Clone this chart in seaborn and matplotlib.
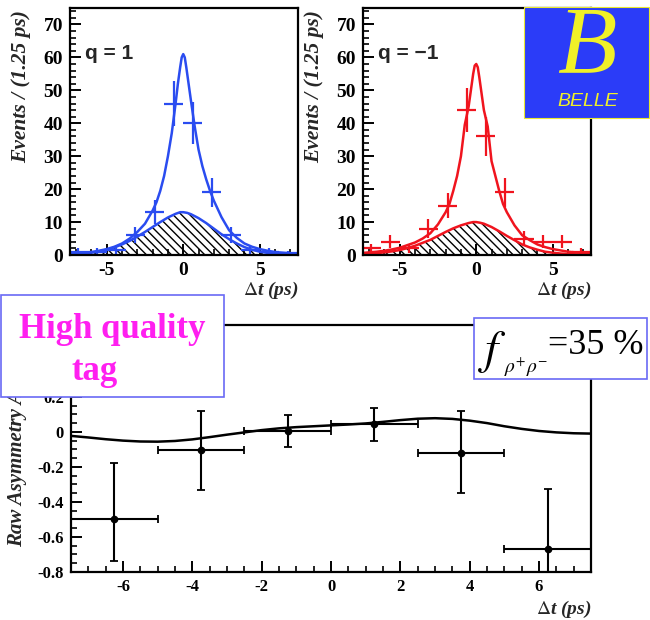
import numpy as np
import pandas as pd
import matplotlib
matplotlib.use("Agg")
import matplotlib.pyplot as plt
from matplotlib.patches import Rectangle
from matplotlib.ticker import MultipleLocator, FuncFormatter
import seaborn as sns

# ---------------- data ----------------
bin_centers = [-6.875, -5.625, -4.375, -3.125, -1.875, -0.625, 0.625, 1.875, 3.125, 4.375, 5.625, 6.875]
q_pos_counts = [1, 1, 1.5, 6, 13, 46, 40, 19, 6, 1.5, 1, 0.5]
q_neg_counts = [2, 4, 2, 8, 15, 44, 36, 19, 5, 4, 4, 1]

curve_t = [-7.5, -7, -6.5, -6, -5.5, -5, -4.5, -4, -3.5, -3, -2.5, -2, -1.75, -1.5, -1.25, -1,
           -0.75, -0.5, -0.35, -0.2, -0.1, 0, 0.1, 0.2, 0.35, 0.5, 0.75, 1, 1.25, 1.5, 1.75, 2,
           2.5, 3, 3.5, 4, 4.5, 5, 5.5, 6, 6.5, 7, 7.5]
q_pos_total = [0.4, 0.5, 0.7, 0.9, 1.3, 1.8, 2.5, 3.5, 5, 7, 9.5, 13.5, 16, 19.5, 24, 30,
               37, 46, 52, 57, 60, 61, 60, 57, 52, 47, 39, 32, 27, 23, 19.5, 16.5,
               11.5, 7.5, 5.2, 3.5, 2.5, 1.8, 1.3, 0.9, 0.7, 0.5, 0.4]
q_neg_total = [0.6, 0.8, 1.0, 1.3, 1.7, 2.2, 3.0, 3.8, 5.0, 6.6, 9.3, 13, 15.5, 19.5, 24, 30,
               39.5, 45, 50, 55, 57.5, 58, 57, 54, 49, 44, 39, 28.5, 24, 19.5, 15.5, 13,
               9, 6, 4.5, 3.2, 2.4, 1.8, 1.4, 1.0, 0.8, 0.6, 0.5]

bkg_t = [-7.5, -7, -6.5, -6, -5.5, -5, -4.5, -4, -3.5, -3, -2.5, -2, -1.5, -1, -0.5, -0.2, 0,
         0.25, 0.5, 1, 1.5, 2, 2.5, 3, 3.5, 4, 4.5, 5, 5.5, 6, 6.5, 7, 7.5]
q_pos_bkg = [0.2, 0.3, 0.45, 0.7, 1.1, 1.6, 2.3, 3.2, 4.3, 5.6, 7.0, 8.5, 10, 11.4, 12.5, 13, 13,
             12.8, 12.4, 11.2, 9.7, 8.0, 6.3, 4.8, 3.5, 2.4, 1.6, 1.0, 0.65, 0.4, 0.25, 0.15, 0.1]
q_neg_bkg = [0.3, 0.4, 0.55, 0.8, 1.1, 1.5, 2.1, 2.8, 3.7, 4.6, 5.8, 7.0, 8.1, 9.0, 9.7, 10, 10,
             9.8, 9.5, 8.5, 7.2, 5.8, 4.5, 3.2, 2.3, 1.6, 1.0, 0.7, 0.45, 0.3, 0.2, 0.12, 0.1]

asym_t = [-6.25, -3.75, -1.25, 1.25, 3.75, 6.25]
asym_val = [-0.50, -0.105, 0.005, 0.045, -0.12, -0.667]
asym_err_up = [0.32, 0.225, 0.09, 0.09, 0.24, 0.34]
asym_err_dn = [0.24, 0.225, 0.09, 0.095, 0.23, 0.34]

asym_curve_t = [-7.5, -7, -6.5, -6, -5.5, -5, -4.5, -4, -3.5, -3, -2.5, -2, -1.5, -1, -0.5, 0,
                0.5, 1, 1.5, 2, 2.5, 3, 3.5, 4, 4.5, 5, 5.5, 6, 6.5, 7, 7.5]
asym_curve_v = [-0.023, -0.032, -0.042, -0.05, -0.055, -0.056, -0.052, -0.043, -0.03, -0.016,
                -0.003, 0.01, 0.02, 0.027, 0.032, 0.037, 0.042, 0.048, 0.057, 0.067, 0.075,
                0.078, 0.074, 0.064, 0.05, 0.032, 0.017, 0.005, -0.003, -0.008, -0.01]

# ---------------- style ----------------
sns.set_theme(style="ticks")
plt.rcParams['font.family'] = ['Liberation Serif', 'DejaVu Serif']
plt.rcParams['mathtext.fontset'] = 'stix'
plt.rcParams['axes.unicode_minus'] = False

fig = plt.figure(figsize=(6.5, 6.2), dpi=100)
fig.patch.set_facecolor('white')

W, H = 650.0, 620.0
def ax_rect(x0, x1, ytop, ybot):
    return [x0 / W, 1 - ybot / H, (x1 - x0) / W, (ybot - ytop) / H]

def gfmt(v, pos):
    s = '%g' % round(v, 6)
    return '0' if s in ('-0', '0') else s

def asym_fmt(v, pos):
    # labels above 0.2 sit under the "High quality tag" box
    return '' if v > 0.25 else gfmt(v, pos)

def style_axes(ax, xmaj, xmin, ymaj, ymin, fs, yfmt=gfmt):
    for s in ax.spines.values():
        s.set_linewidth(1.6)
        s.set_color('black')
    ax.xaxis.set_major_locator(MultipleLocator(xmaj))
    ax.xaxis.set_minor_locator(MultipleLocator(xmin))
    ax.yaxis.set_major_locator(MultipleLocator(ymaj))
    ax.yaxis.set_minor_locator(MultipleLocator(ymin))
    ax.xaxis.set_major_formatter(FuncFormatter(gfmt))
    ax.yaxis.set_major_formatter(FuncFormatter(yfmt))
    ax.tick_params(which='both', direction='in', top=False, right=False, colors='black', pad=5)
    ax.tick_params(which='major', length=8, width=1.4)
    ax.tick_params(which='minor', length=4, width=1.2)
    ax.tick_params(axis='both', labelsize=fs)
    for lab in ax.get_xticklabels() + ax.get_yticklabels():
        lab.set_fontweight('bold')
    ax.set_facecolor('white')
    ax.grid(False)

def top_panel(ax, counts, total, bkg, color, qlabel):
    df_tot = pd.DataFrame({'t': curve_t, 'n': total})
    df_bkg = pd.DataFrame({'t': bkg_t, 'n': bkg})
    ax.fill_between(df_bkg['t'], 0, df_bkg['n'], facecolor='none', edgecolor='black',
                    hatch='\\\\\\\\', linewidth=0)
    sns.lineplot(data=df_bkg, x='t', y='n', ax=ax, color=color, lw=1.8)
    sns.lineplot(data=df_tot, x='t', y='n', ax=ax, color=color, lw=1.8)
    err = np.sqrt(np.array(counts, dtype=float))
    ax.errorbar(bin_centers, counts, xerr=0.625, yerr=err, fmt='none', ecolor=color,
                elinewidth=1.6, capsize=0)
    ax.set_xlim(-7.4, 7.5)
    ax.set_ylim(0, 75)
    style_axes(ax, 5, 1, 10, 2, 14)
    ax.set_xlabel('')
    ax.set_ylabel('')
    ax.text(-0.215, 0.99, 'Events / (1.25 ps)', transform=ax.transAxes, rotation=90,
            rotation_mode='anchor', ha='right', va='center', fontsize=15.5,
            fontstyle='italic', fontweight='bold')
    ax.text(1.0, -0.1, r'$\Delta$' + 't (ps)', transform=ax.transAxes, ha='right', va='top',
            fontsize=14, fontstyle='italic', fontweight='bold')
    ax.text(0.065, 0.815, qlabel, transform=ax.transAxes, ha='left', va='center',
            fontsize=15, fontweight='bold', family='Liberation Sans')

ax1 = fig.add_axes(ax_rect(70, 298, 8, 255))
top_panel(ax1, q_pos_counts, q_pos_total, q_pos_bkg, '#2a4cf0', 'q = 1')
ax2 = fig.add_axes(ax_rect(363, 591, 8, 255))
top_panel(ax2, q_neg_counts, q_neg_total, q_neg_bkg, '#f0141e', 'q = \u22121')

# bottom asymmetry panel
ax3 = fig.add_axes(ax_rect(71, 591, 325, 572))
df_ac = pd.DataFrame({'t': asym_curve_t, 'a': asym_curve_v})
sns.lineplot(data=df_ac, x='t', y='a', ax=ax3, color='black', lw=1.8)
ax3.errorbar(asym_t, asym_val, xerr=1.25, yerr=[asym_err_dn, asym_err_up], fmt='o', color='black',
             ms=4.5, elinewidth=1.5, capsize=3, capthick=1.3, clip_on=True)
ax3.set_xlim(-7.5, 7.5)
ax3.set_ylim(-0.8, 0.61)
style_axes(ax3, 2, 0.5, 0.2, 0.05, 12, yfmt=asym_fmt)
ax3.set_xlabel('')
ax3.set_ylabel('')
# y title anchored at its start (bottom), ROOT-style; its end is hidden by the box
ax3.text(-0.103, (572 - 547) / 247.0, 'Raw Asymmetry A', transform=ax3.transAxes,
         rotation=90, rotation_mode='anchor', ha='left', va='center', fontsize=15,
         fontstyle='italic', fontweight='bold')
ax3.text(1.0, -0.11, r'$\Delta$' + 't (ps)', transform=ax3.transAxes, ha='right', va='top',
         fontsize=14, fontstyle='italic', fontweight='bold')

# ---------------- overlays ----------------
def fig_box(x0, y0, x1, y1, fc, ec, lw=1.2):
    r = Rectangle((x0 / W, 1 - y1 / H), (x1 - x0) / W, (y1 - y0) / H, transform=fig.transFigure,
                  facecolor=fc, edgecolor=ec, linewidth=lw, zorder=10)
    fig.patches.append(r)

fig_box(1, 295, 224, 397, 'white', '#6a6af5')
fig.text(112 / W, 1 - 329 / H, 'High quality', ha='center', va='center', fontsize=25,
         fontweight='bold', color='#ff1ff0', zorder=11)
fig.text(95 / W, 1 - 371 / H, 'tag', ha='center', va='center', fontsize=25,
         fontweight='bold', color='#ff1ff0', zorder=11)

fig_box(474, 318, 647, 379, 'white', '#6a6af5')
fig.text(478 / W, 1 - 352 / H, r'$f$', ha='left', va='center',
         fontsize=34, color='black', zorder=11)
fig.text(504 / W, 1 - 367 / H, r'$\rho^{+}\rho^{-}$', ha='left', va='center',
         fontsize=14, color='black', zorder=11)
fig.text(548 / W, 1 - 346 / H, '=35 %', ha='left', va='center',
         fontsize=26, color='black', zorder=11)

fig_box(524, 7, 649, 118, '#2b3cf8', '#e8e830', lw=0.8)
fig.text(587 / W, 1 - 50 / H, 'B', ha='center', va='center', fontsize=70, fontstyle='italic',
         color='#f0f028', family='Liberation Serif', zorder=11)
fig.text(588 / W, 1 - 102 / H, 'BELLE', ha='center', va='center', fontsize=14, fontstyle='italic',
         color='#f0f028', family='Liberation Sans', zorder=11)

fig.savefig('out.png', dpi=100, facecolor='white')
